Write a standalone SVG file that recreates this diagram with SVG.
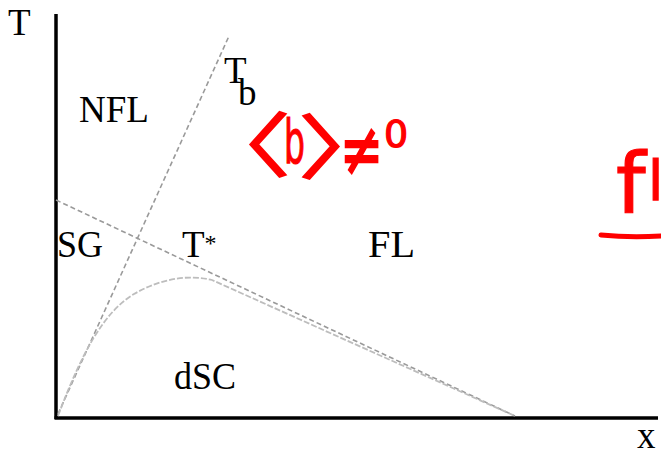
<svg xmlns="http://www.w3.org/2000/svg" width="661" height="454" viewBox="0 0 661 454">
<style>
.lbl{font-family:"Liberation Serif","Times New Roman",serif;font-size:37px;fill:#000}
.bd{fill:none;stroke:#9a9a9a;stroke-width:1.6;stroke-dasharray:5 3}
.dome{fill:none;stroke:#bdbdbd;stroke-width:1.8;stroke-dasharray:6 2}
.ax{fill:none;stroke:#000;stroke-width:3.5}
.red{font-family:"DejaVu Sans",sans-serif;fill:#ff0000;stroke:#ff0000;stroke-width:1.2}
.cjk{font-family:"Noto Sans CJK SC",sans-serif;fill:#ff0000;stroke:#ff0000;stroke-width:1.4}
</style>
<rect width="661" height="454" fill="#fff"/>
<g id="axes">
<line class="ax" x1="56" y1="14" x2="56" y2="419"/>
<line class="ax" x1="54.5" y1="418" x2="658" y2="418"/>
</g>
<g id="boundaries">
<line id="Tb-line" class="bd" x1="58" y1="414" x2="229" y2="36"/>
<line id="Tstar-line" class="bd" x1="56" y1="200" x2="515" y2="416"/>
<path id="dSC-dome" class="dome" d="M58,416 C82,352 104,312 134,294 C160,279 188,274 212,280 L515,416"/>
</g>
<g id="labels">
<text class="lbl" x="8" y="35">T</text>
<text class="lbl" x="79" y="122" textLength="70" lengthAdjust="spacingAndGlyphs">NFL</text>
<text class="lbl" x="224" y="83">T</text>
<text class="lbl" x="238" y="105">b</text>
<text class="lbl" x="57" y="257" textLength="46" lengthAdjust="spacingAndGlyphs">SG</text>
<text class="lbl" x="182" y="257">T<tspan font-size="24" dy="-6">*</tspan></text>
<text class="lbl" x="368" y="257" textLength="47" lengthAdjust="spacingAndGlyphs">FL</text>
<text class="lbl" x="174" y="389" textLength="62" lengthAdjust="spacingAndGlyphs">dSC</text>
<text class="lbl" x="637" y="448">x</text>
</g>
<g id="annotations">
<text class="cjk" font-size="66" transform="translate(192,171) scale(1.5,1.06)">〈</text>
<text class="red" font-size="60" transform="translate(284,163) scale(0.55,1)">b</text>
<text class="cjk" font-size="66" transform="translate(298,173) scale(1.5,1.06)">〉</text>
<text class="red" font-size="44" transform="translate(340,175) scale(1.17,1.7)">≠</text>
<text class="red" x="384" y="147" font-size="38">0</text>
<text class="red" x="616" y="213" font-size="84">f</text>
<text class="red" x="648" y="200" font-size="55">l</text>
<path d="M601,235 Q630,238 661,236" fill="none" stroke="#ff0000" stroke-width="5" stroke-linecap="round"/>
</g>
</svg>
